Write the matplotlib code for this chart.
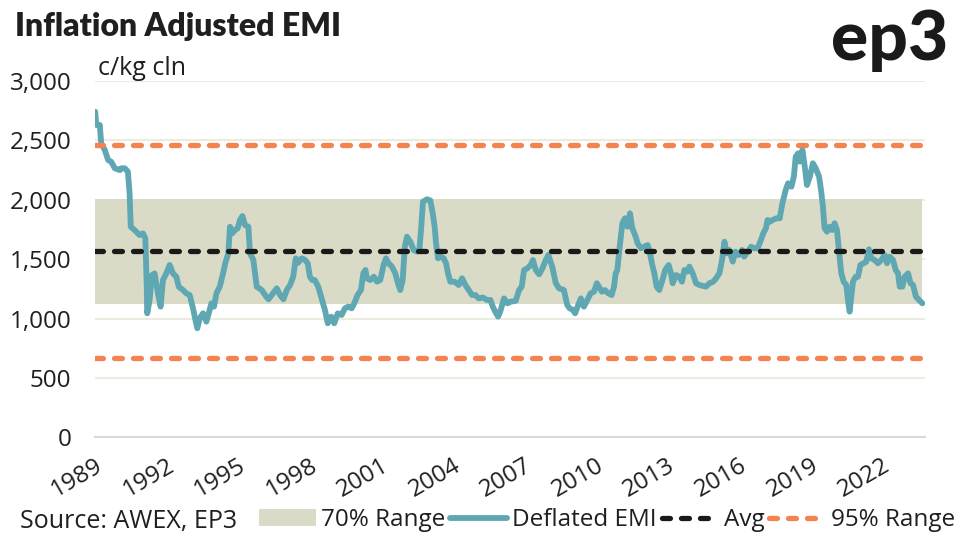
import matplotlib
matplotlib.use("Agg")
import matplotlib.pyplot as plt
from matplotlib.lines import Line2D
from matplotlib.patches import Patch

# ---------------- data ----------------
dates = [
    1989.01, 1989.05, 1989.20, 1989.26, 1989.41, 1989.55, 1989.68, 1989.83, 1990.04, 1990.10,
    1990.25, 1990.38, 1990.45, 1990.50, 1990.66, 1990.87, 1991.01, 1991.11, 1991.17, 1991.19,
    1991.29, 1991.39, 1991.50, 1991.64, 1991.75, 1991.85, 1991.99, 1992.13, 1992.27, 1992.41,
    1992.51, 1992.69, 1992.83, 1992.97, 1993.11, 1993.21, 1993.29, 1993.39, 1993.53, 1993.67,
    1993.77, 1993.88, 1993.99, 1994.09, 1994.23, 1994.37, 1994.46,
    1994.59, 1994.66, 1994.76, 1994.87, 1994.98, 1995.08, 1995.18, 1995.29, 1995.43, 1995.50,
    1995.64, 1995.78, 1995.99, 1996.13, 1996.27, 1996.41, 1996.62, 1996.76, 1996.90, 1997.04,
    1997.18, 1997.31, 1997.42, 1997.52, 1997.67, 1997.81, 1997.92, 1998.01, 1998.11, 1998.22,
    1998.36, 1998.50, 1998.64, 1998.76, 1998.90, 1999.03, 1999.18, 1999.34, 1999.48, 1999.62,
    1999.76, 1999.87, 2000.01, 2000.15, 2000.25,
    2000.34, 2000.40, 2000.54, 2000.69, 2000.82, 2000.96, 2001.10, 2001.20, 2001.31, 2001.45,
    2001.59, 2001.70, 2001.80, 2001.90, 2001.99, 2002.08, 2002.22, 2002.36, 2002.50, 2002.60,
    2002.68, 2002.75, 2002.92, 2003.06, 2003.16, 2003.24, 2003.30, 2003.38, 2003.48, 2003.62,
    2003.72, 2003.80, 2003.90, 2004.08, 2004.25, 2004.39, 2004.53, 2004.67, 2004.81, 2004.95,
    2005.09, 2005.26, 2005.44, 2005.58, 2005.68, 2005.78, 2005.90, 2005.99,
    2006.15, 2006.29, 2006.43, 2006.64, 2006.78, 2006.89, 2006.99, 2007.13, 2007.27, 2007.36,
    2007.48, 2007.62, 2007.76, 2007.90, 2008.01, 2008.17, 2008.32, 2008.46, 2008.66, 2008.80,
    2008.90, 2009.04, 2009.13, 2009.26, 2009.37, 2009.50, 2009.64, 2009.78, 2009.92, 2010.04,
    2010.13, 2010.25, 2010.38, 2010.52, 2010.66, 2010.76, 2010.83, 2010.90, 2011.00, 2011.11,
    2011.22, 2011.32, 2011.43, 2011.53, 2011.67,
    2011.75, 2011.89, 2012.03, 2012.17, 2012.24, 2012.35, 2012.45, 2012.55, 2012.66, 2012.77,
    2012.91, 2013.05, 2013.15, 2013.22, 2013.36, 2013.50, 2013.61, 2013.71, 2013.85, 2013.92,
    2014.06, 2014.20, 2014.34, 2014.48, 2014.62, 2014.76, 2014.92, 2015.04, 2015.18, 2015.29,
    2015.39, 2015.49, 2015.60, 2015.74, 2015.85, 2015.99, 2016.13, 2016.22, 2016.37, 2016.51,
    2016.64, 2016.78, 2016.92, 2017.02, 2017.13, 2017.20, 2017.31, 2017.41,
    2017.57, 2017.71, 2017.82, 2017.96, 2018.06, 2018.20, 2018.30, 2018.38, 2018.48, 2018.55,
    2018.66, 2018.76, 2018.85, 2018.97, 2019.10, 2019.22, 2019.36, 2019.45, 2019.52, 2019.59,
    2019.69, 2019.80, 2019.91, 2020.01, 2020.11, 2020.19, 2020.29, 2020.39, 2020.50, 2020.57,
    2020.64, 2020.71, 2020.78, 2020.89, 2020.99, 2021.09, 2021.23, 2021.34, 2021.45, 2021.55,
    2021.69, 2021.83, 2021.97, 2022.11, 2022.21, 2022.32, 2022.46, 2022.57, 2022.67, 2022.74,
    2022.85, 2022.95, 2023.09, 2023.19, 2023.30, 2023.42, 2023.55, 2023.69,
]
emi = [
    2741, 2630, 2630, 2475, 2419, 2335, 2320, 2265, 2250, 2265,
    2265, 2236, 2054, 1773, 1745, 1703, 1717, 1675, 1268, 1044,
    1156, 1366, 1380, 1212, 1100, 1324, 1380, 1451, 1380, 1352,
    1268, 1240, 1212, 1198, 1086, 988, 918, 1002, 1044, 974,
    1044, 1128, 1100, 1212, 1268, 1380, 1465,
    1549, 1773, 1718, 1745, 1759, 1830, 1863, 1787, 1773, 1549,
    1493, 1268, 1240, 1198, 1162, 1198, 1254, 1198, 1162, 1240,
    1282, 1352, 1507, 1470, 1507, 1493, 1465, 1352, 1324, 1324,
    1268, 1170, 1072, 960, 1016, 960, 1044, 1030, 1086, 1100,
    1086, 1128, 1198, 1240, 1381,
    1409, 1339, 1324, 1352, 1310, 1324, 1451, 1507, 1465, 1437,
    1381, 1297, 1240, 1324, 1605, 1689, 1647, 1577, 1563, 1577,
    1773, 1984, 2004, 1994, 1886, 1773, 1633, 1507, 1521, 1507,
    1465, 1381, 1310, 1310, 1282, 1339, 1282, 1240, 1198, 1198,
    1170, 1177, 1156, 1156, 1100, 1058, 1016, 1058,
    1170, 1128, 1142, 1149, 1240, 1268, 1409, 1423, 1451, 1493,
    1409, 1372, 1423, 1493, 1535, 1437, 1297, 1254, 1240, 1114,
    1086, 1072, 1044, 1114, 1170, 1100, 1156, 1212, 1226, 1297,
    1268, 1226, 1240, 1212, 1198, 1268, 1381, 1409, 1605, 1802,
    1844, 1773, 1886, 1759, 1689,
    1633, 1591, 1605, 1619, 1577, 1465, 1381, 1268, 1240, 1310,
    1409, 1451, 1381, 1297, 1366, 1352, 1310, 1409, 1395, 1437,
    1381, 1297, 1282, 1275, 1268, 1297, 1310, 1339, 1381, 1493,
    1647, 1549, 1577, 1479, 1563, 1535, 1577, 1521, 1563, 1605,
    1591, 1591, 1661, 1718, 1760, 1830, 1816, 1830,
    1844, 1844, 1970, 2082, 2139, 2110, 2194, 2363, 2391, 2321,
    2419, 2278, 2124, 2194, 2307, 2265, 2194, 2068, 1942, 1760,
    1731, 1773, 1745, 1802, 1745, 1577, 1381, 1310, 1282, 1156,
    1058, 1184, 1310, 1352, 1352, 1451, 1465, 1479, 1583, 1507,
    1493, 1465, 1493, 1535, 1465, 1521, 1493, 1409, 1381, 1268,
    1268, 1352, 1381, 1297, 1282, 1184, 1156, 1128,
]
avg_value = 1567
range70 = [1120, 2006]
range95 = [668, 2457]
year_ticks = [1989, 1992, 1995, 1998, 2001, 2004, 2007, 2010, 2013, 2016, 2019, 2022]
y_ticks = [0, 500, 1000, 1500, 2000, 2500, 3000]

# ---------------- styling ----------------
BODY = ["Open Sans", "DejaVu Sans"]
HEAD = ["Lato", "DejaVu Sans"]
plt.rcParams["font.family"] = BODY
TEAL = "#5fa8b3"
BAND = "#d9dbc6"
ORANGE = "#f4834f"
BLACK = "#1a1a1a"
TXT = "#1f1f1f"

W, H = 962, 539
fig = plt.figure(figsize=(W / 100, H / 100), dpi=100)
fig.patch.set_facecolor("white")
ax = fig.add_axes([95 / W, (H - 437.3) / H, 830 / W, (437.3 - 81) / H])
ax.set_xlim(1989.0, 2023.80)
ax.set_ylim(0, 3000)

for s in ["top", "right", "left"]:
    ax.spines[s].set_visible(False)
ax.spines["bottom"].set_color("#d9d9d9")
ax.spines["bottom"].set_linewidth(1.5)
ax.yaxis.grid(True, color="#ebebe0", lw=1.5)
ax.set_axisbelow(True)

x0, x1 = dates[0], dates[-1]
ax.fill_between([x0, x1], range70[0], range70[1], color=BAND, lw=0, zorder=1)
ax.plot(dates, emi, color=TEAL, lw=4.2, solid_joinstyle="round", solid_capstyle="round", zorder=3)
dash_kw = dict(lw=3.8, dashes=(1.5, 2.1), dash_capstyle="round")
ax.plot([x0, x1], [avg_value, avg_value], color=BLACK, zorder=4, **dash_kw)
ax.plot([x0, x1], [range95[0], range95[0]], color=ORANGE, zorder=4, **dash_kw)
ax.plot([x0, x1], [range95[1], range95[1]], color=ORANGE, zorder=4, **dash_kw)

ax.set_yticks(y_ticks)
ax.set_yticklabels([f"{v:,}" for v in y_ticks])
ax.set_xticks(year_ticks)
ax.set_xticklabels([str(y) for y in year_ticks], rotation=30, ha="right",
                   rotation_mode="anchor")
ax.tick_params(axis="both", length=0, labelsize=17.5, labelcolor=TXT)
ax.tick_params(axis="y", pad=17)
ax.tick_params(axis="x", pad=12)

# texts
fig.text(15 / W, 1 - 36 / H, "Inflation Adjusted EMI", fontsize=23, fontweight="heavy",
         family=HEAD, color=TXT, ha="left", va="baseline")
fig.text(98 / W, 1 - 75 / H, "c/kg cln", fontsize=18, color=TXT, ha="left", va="baseline")
fig.text(948 / W, 1 - 60 / H, "ep3", fontsize=50, fontweight="black", family=HEAD,
         color=BLACK, ha="right", va="baseline")
fig.text(20 / W, 1 - 528 / H, "Source: AWEX, EP3", fontsize=18, color=TXT,
         ha="left", va="baseline")

handles = [
    Patch(facecolor=BAND, edgecolor="none"),
    Line2D([], [], color=TEAL, lw=4.2, solid_capstyle="round"),
    Line2D([], [], color=BLACK, **dash_kw),
    Line2D([], [], color=ORANGE, **dash_kw),
]
labels = ["70% Range", "Deflated EMI", "Avg", "95% Range"]
fig.legend(handles, labels, ncol=4, loc="lower right", bbox_to_anchor=(960 / W, 2 / H),
           frameon=False, fontsize=17.5, handlelength=2.35, handletextpad=0.2,
           columnspacing=0.2, borderpad=0.2, borderaxespad=0, labelcolor=TXT)

fig.savefig("out.png", dpi=100, facecolor="white")
